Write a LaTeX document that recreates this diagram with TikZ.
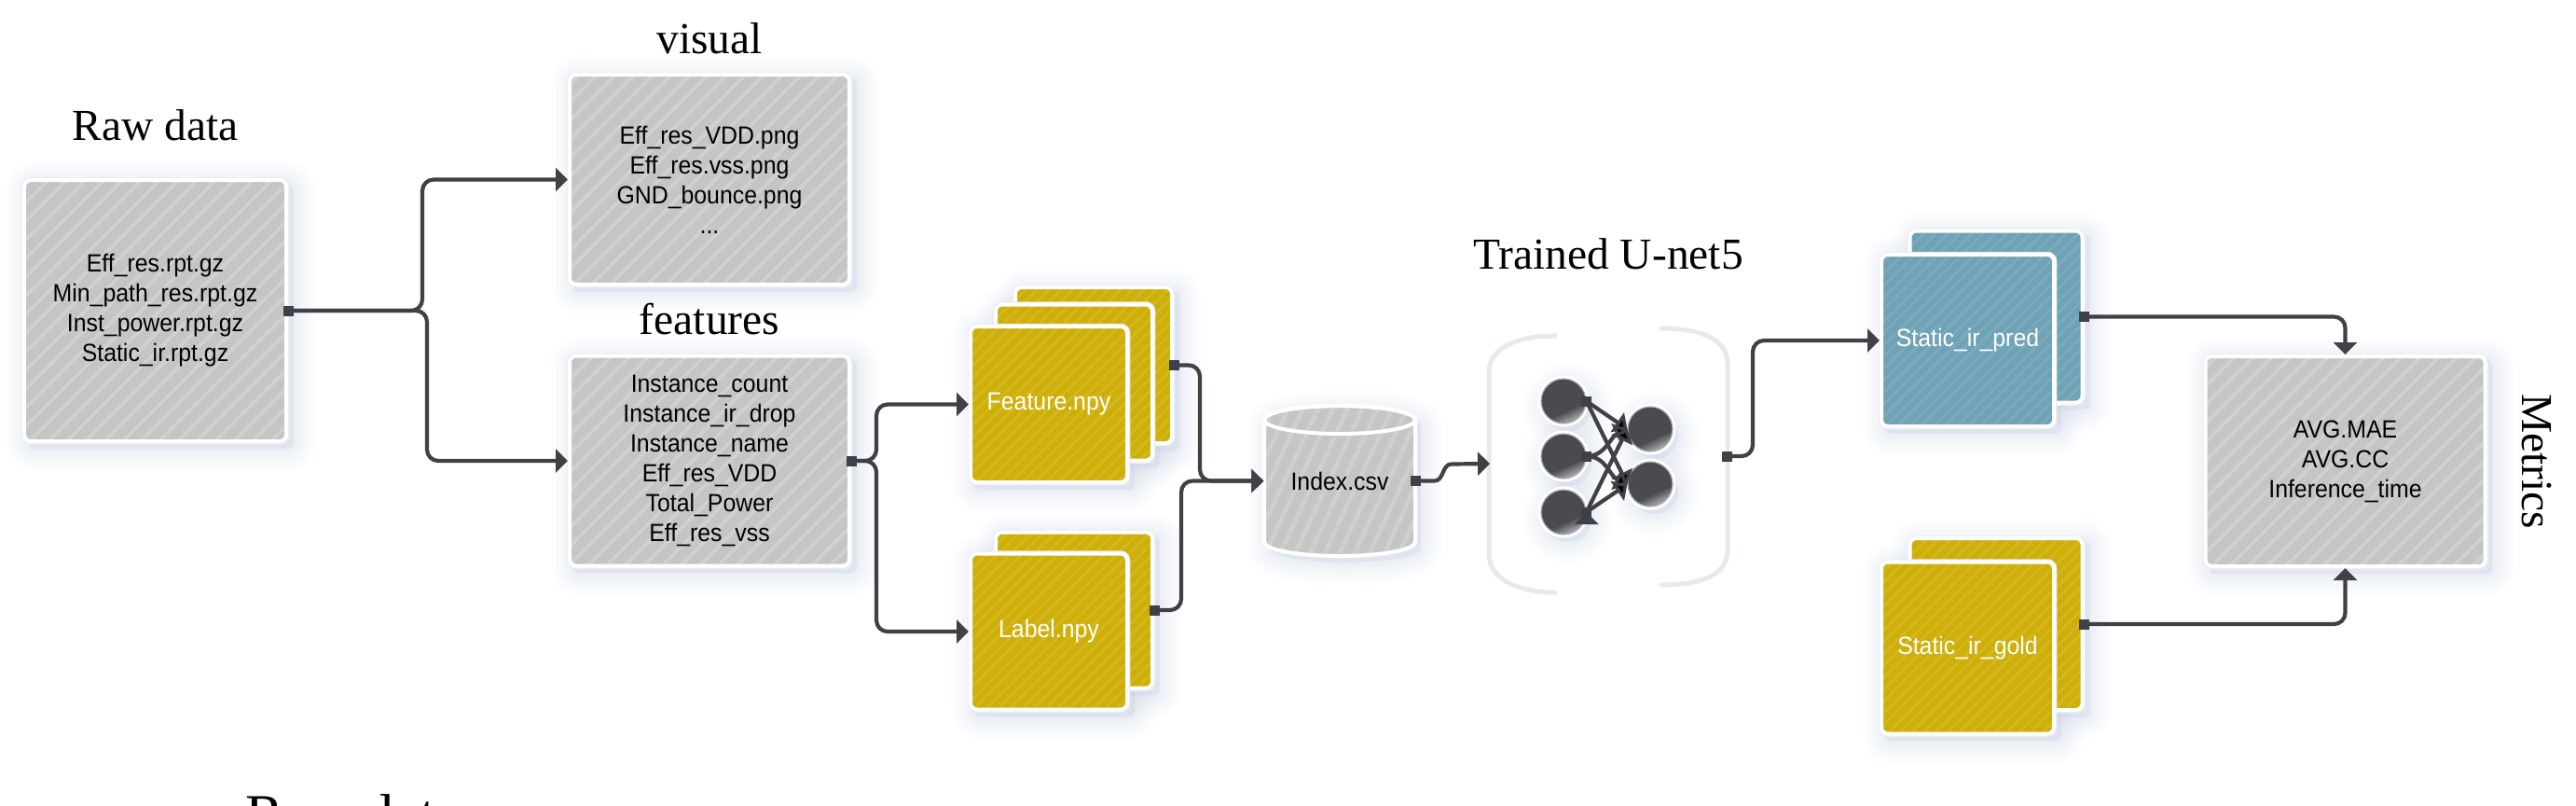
\documentclass[tikz,border=0pt]{standalone}
\usepackage{fontspec}
\setmainfont{Liberation Serif}
\newfontfamily\labelfont[FakeStretch=0.93]{Liberation Sans}
\usetikzlibrary{positioning, arrows.meta, patterns.meta, shapes.geometric, backgrounds}

\definecolor{linkdark}{HTML}{404146}
\definecolor{grayfill}{HTML}{C5C5C5}
\definecolor{graystripe}{HTML}{D0D0D0}
\definecolor{goldfill}{HTML}{CDAF08}
\definecolor{goldstripe}{HTML}{D4B722}
\definecolor{tealfill}{HTML}{6EA2B4}
\definecolor{tealstripe}{HTML}{7BABBC}
\definecolor{ringgray}{HTML}{EBEDF1}
\definecolor{bracketgray}{HTML}{E7E9EA}
\definecolor{shadowblue}{HTML}{C0CADF}
\definecolor{balldark}{HTML}{4A4B4F}
\definecolor{balllight}{HTML}{B0B0B4}

\pgfdeclareverticalshading{netball}{100bp}{color(0bp)=(balllight); color(25bp)=(balllight); color(39bp)=(balldark); color(100bp)=(balldark)}

\newcommand{\dbbody}{(-.81,.655) -- (-.81,-.655) arc [start angle=180,end angle=360,x radius=.81,y radius=.15] -- (.81,.655) arc [start angle=0,end angle=180,x radius=.81,y radius=.15] -- cycle}

\tikzset{
        filecard/.style={rounded corners=.07cm, inner sep=0pt, align=center,
                font=\labelfont\fontsize{7.6}{9.1}\selectfont, line width=.04cm, draw=white,
                preaction={draw=ringgray, line width=.065cm}},
        striped/.style args={#1 on #2 at #3}{
                preaction={fill=#2},
                preaction={pattern={Lines[angle=#3,distance=.14cm,line width=.04cm]}, pattern color=#1}},
        grid_box/.style={filecard, striped=graystripe on grayfill at 45, minimum width=3cm, minimum height=2.25cm},
        raw_box/.style={grid_box, minimum width=2.81cm, minimum height=2.8cm},
        gold_card/.style={filecard, text=white, minimum width=1.68cm, minimum height=1.67cm,
                preaction={fill=goldfill},
                preaction={pattern={Lines[angle=45,distance=.09cm,line width=.025cm]}, pattern color=goldstripe}},
        tall_card/.style={gold_card, minimum width=1.85cm, minimum height=1.84cm},
        teal_card/.style={tall_card,
                preaction={fill=tealfill},
                preaction={pattern={Lines[angle=45,distance=.09cm,line width=.025cm]}, pattern color=tealstripe}},
        db_label/.style={font=\labelfont\fontsize{7.6}{9.1}\selectfont, inner sep=0pt, minimum width=1.62cm, minimum height=1.61cm},
        title/.style={font=\fontsize{13.5}{16}\selectfont, inner sep=0pt, anchor=base},
        stub/.style={fill=linkdark, inner sep=0pt, minimum size=.11cm},
        link/.style={draw=linkdark, line width=.042cm, rounded corners=.12cm, ->},
        net_edge/.style={draw=linkdark, line width=.042cm, ->},
        net_ball/.style={circle, inner sep=0pt, minimum size=.48cm, shading=netball, shading angle=25,
                draw=ringgray!40!gray, line width=.012cm, preaction={draw=white, line width=.07cm}},
        bracket/.style={draw=bracketgray, line width=.05cm, line cap=round},
        soft_shadow/.style={line join=round,
                preaction={draw=shadowblue, draw opacity=.05, line width=.46cm},
                preaction={draw=shadowblue, draw opacity=.06, line width=.36cm},
                preaction={draw=shadowblue, draw opacity=.07, line width=.26cm},
                preaction={draw=shadowblue, draw opacity=.08, line width=.17cm},
                preaction={draw=shadowblue, draw opacity=.08, line width=.08cm},
                preaction={fill=shadowblue, fill opacity=.3}},
        >={Triangle[length=.13cm,width=.25cm]}
}

\begin{document}
\begin{tikzpicture}[node distance=3cm,on grid]
        \useasboundingbox (0,0) rectangle (27.63,-8.63);
        \node[raw_box] (raw_data) at (1.665,-3.33) {Eff\_res.rpt.gz\\Min\_path\_res.rpt.gz\\Inst\_power.rpt.gz\\Static\_ir.rpt.gz};
        \node[grid_box] (visual) [above right=1.405cm and 5.945cm of raw_data] {Eff\_res\_VDD.png\\Eff\_res.vss.png\\GND\_bounce.png\\...};
        \node[grid_box] (features) [below=3.015cm of visual] {Instance\_count\\Instance\_ir\_drop\\Instance\_name\\Eff\_res\_VDD\\Total\_Power\\Eff\_res\_vss};

        \node[gold_card] (feature_back) [above right=1.025cm and 4.12cm of features] {};
        \node[gold_card] (feature_mid) [below left=.185cm and .21cm of feature_back] {};
        \node[gold_card] (feature) [below left=.235cm and .27cm of feature_mid] {Feature.npy};
        \node[gold_card] (label_back) [below=2.44cm of feature_mid] {};
        \node[gold_card] (label) [below left=.23cm and .27cm of label_back] {Label.npy};

        \coordinate[below right=.82cm and 3.12cm of feature] (db_center);
        \draw[shift={(db_center)}, draw=white, line width=.04cm, striped=graystripe on grayfill at 65] \dbbody;
        \draw[shift={(db_center)}, draw=white, line width=.04cm] (0,.655) ellipse [x radius=.81, y radius=.15];
        \node[db_label] (index_db) at (db_center) {Index.csv};

        \node[net_ball] (in_2) [above right=.265cm and 2.40cm of index_db] {};
        \node[net_ball] (in_1) [above=.59cm of in_2] {};
        \node[net_ball] (in_3) [below=.60cm of in_2] {};
        \node[net_ball] (out_1) [above right=.29cm and .93cm of in_2] {};
        \node[net_ball] (out_2) [below=.59cm of out_1] {};

        \node[teal_card] (pred_back) [above right=1.495cm and 4.64cm of in_2] {};
        \node[teal_card] (static_pred) [below left=.255cm and .305cm of pred_back] {Static\_ir\_pred};
        \node[tall_card] (gold_back) [below=3.295cm of pred_back] {};
        \node[tall_card] (static_gold) [below left=.255cm and .305cm of gold_back] {Static\_ir\_gold};
        \node[grid_box] (metrics) [below right=1.55cm and 3.745cm of pred_back] {AVG.MAE\\AVG.CC\\Inference\_time};

        \node[title] (raw_title) [above=1.82cm of raw_data, anchor=base] {Raw data};
        \node[title] (visual_title) [above=1.355cm of visual, anchor=base] {visual};
        \node[title] (features_title) [above=1.36cm of features, anchor=base] {features};
        \node[title] (net_title) [above right=2.01cm and .48cm of in_2, anchor=base] {Trained U-net5};
        \node[title, rotate=-90, anchor=center] (metrics_title) [right=2.055cm of metrics, anchor=center] {Metrics};
        \node[title, font=\fontsize{17.6}{20}\selectfont] (cut_title) at (3.79,-8.94) {Raw data};

        \draw[bracket] (16.68,-3.60) to[out=180,in=90] (15.97,-4.00) -- (15.97,-5.93) to[out=-90,in=180] (16.68,-6.35);
        \draw[bracket] (17.82,-3.52) to[out=0,in=90] (18.53,-3.90) -- (18.53,-5.90) to[out=-90,in=0] (17.82,-6.27);

        \node[stub] (raw_out) at (raw_data.east) {};
        \node[stub] (features_out) at (features.east) {};
        \node[stub] (feature_out) at (feature_back.east) {};
        \node[stub] (label_out) at (label_back.east) {};
        \node[stub] (db_out) at (index_db.east) {};
        \node[stub] (pred_out) at (pred_back.east) {};
        \node[stub] (gold_out) at (gold_back.east) {};
        \node[stub] (net_out) [right=1.75cm of in_2] {};
        \coordinate[below left=.08cm and .79cm of in_2] (net_in);

        \node[stub] (in_1_out) at (in_1.east) {};
        \node[stub] (in_2_out) at (in_2.east) {};
        \node[stub] (in_3_out) at (in_3.east) {};

        \draw[link] (raw_out.center) -- ++(1.44,0) |- (visual.west);
        \draw[link] (raw_out.center) -- ++(1.49,0) |- (features.west);
        \draw[link] (features_out.center) -- ++(.27,0) |- (feature.west);
        \draw[link] (features_out.center) -- ++(.27,0) |- (label.west);
        \draw[link] (feature_out.center) -- ++(.28,0) |- (index_db.west);
        \draw[link] (label_out.center) -- ++(.29,0) |- (index_db.west);
        \draw[link, sharp corners] (db_out.center) -- ++(.2,0) to[out=0,in=180] ++(.18,.18) -- (net_in);
        \draw[link] (net_out.center) -- ++(.28,0) |- (static_pred.west);
        \draw[link] (pred_out.center) -| (metrics.north);
        \draw[link] (gold_out.center) -| (metrics.south);

        \path[net_edge]
        (in_1_out.center) edge (out_1.west)
                          edge (out_2.west)
        (in_2_out.center) edge [out=0,in=205] (out_1.west)
                          edge [out=0,in=155] (out_2.west)
        (in_3_out.center) edge (out_1.west)
                          edge (out_2.west);

        \begin{scope}[on background layer]
                \foreach \card in {raw_data,visual,features,feature_back,feature_mid,feature,label_back,label,pred_back,static_pred,gold_back,static_gold,metrics}
                        \path[soft_shadow, rounded corners=.07cm] ([shift={(.06,-.06)}]\card.south west) rectangle ([shift={(.06,-.06)}]\card.north east);
                \path[soft_shadow, shift={(db_center)}, shift={(.06,-.07)}] \dbbody;
                \foreach \ball in {in_1,in_2,in_3,out_1,out_2}
                        \path[soft_shadow] ([shift={(.05,-.07)}]\ball.center) circle (.25);
        \end{scope}
\end{tikzpicture}
\end{document}
